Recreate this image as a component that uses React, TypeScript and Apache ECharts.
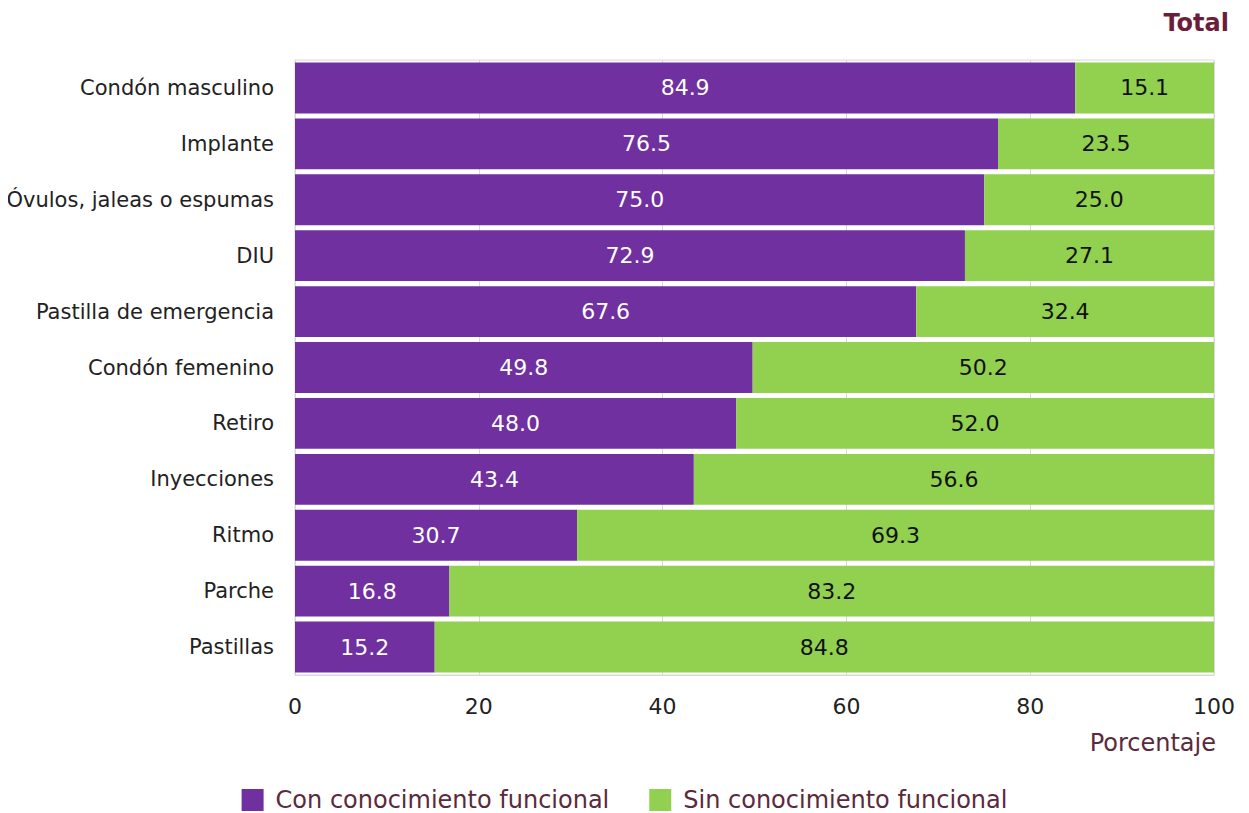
import React, { useEffect, useRef } from "react";
import * as echarts from "echarts";

const categories = [
  "Condón masculino",
  "Implante",
  "Óvulos, jaleas o espumas",
  "DIU",
  "Pastilla de emergencia",
  "Condón femenino",
  "Retiro",
  "Inyecciones",
  "Ritmo",
  "Parche",
  "Pastillas",
];
const conConocimiento = [84.9, 76.5, 75.0, 72.9, 67.6, 49.8, 48.0, 43.4, 30.7, 16.8, 15.2];
const sinConocimiento = [15.1, 23.5, 25.0, 27.1, 32.4, 50.2, 52.0, 56.6, 69.3, 83.2, 84.8];
const xTicks = [0, 20, 40, 60, 80, 100];

const FONT = "DejaVu Sans";

export default function App() {
  const ref = useRef<HTMLDivElement>(null);
  useEffect(() => {
    if (!ref.current) return;
    const chart = echarts.init(ref.current, null, { renderer: "svg" });
    chart.setOption({
      animation: false,
      backgroundColor: "#ffffff",
      textStyle: { fontFamily: FONT },
      title: {
        text: "Total",
        right: 12,
        top: 2,
        padding: 0,
        textStyle: { fontFamily: FONT, fontSize: 24, fontWeight: "bold", color: "#6b1d3a", lineHeight: 26 },
      },
      grid: {
        left: 287,
        right: 27,
        top: 52,
        bottom: 138,
        containLabel: false,
        outerBoundsMode: "none",
        show: true,
        borderColor: "#d9d9d9",
        borderWidth: 1,
      },
      legend: {
        top: 775,
        left: "center",
        itemWidth: 22,
        itemHeight: 22,
        itemGap: 40,
        icon: "rect",
        textStyle: { fontFamily: FONT, fontSize: 24, color: "#5a2a3c", padding: [0, 0, 0, 7] },
        data: ["Con conocimiento funcional", "Sin conocimiento funcional"],
      },
      xAxis: {
        type: "value",
        min: 0,
        max: 100,
        interval: 20,
        name: "Porcentaje",
        nameLocation: "end",
        nameGap: 2,
        nameTextStyle: {
          fontFamily: FONT,
          fontSize: 24,
          color: "#5a2a3c",
          align: "right",
          verticalAlign: "top",
          padding: [56, 0, 0, 0],
        },
        axisLine: { show: true, lineStyle: { color: "#d9d9d9" } },
        axisTick: { show: false },
        splitLine: { show: true, lineStyle: { color: "#d9d9d9" } },
        axisLabel: {
          fontFamily: FONT,
          fontSize: 22,
          color: "#222222",
          margin: 20,
          formatter: (v: number) => (xTicks.includes(v) ? String(v) : ""),
        },
      },
      yAxis: {
        type: "category",
        data: categories,
        inverse: true,
        axisLine: { show: true, lineStyle: { color: "#d9d9d9" } },
        axisTick: { show: false },
        axisLabel: { fontFamily: FONT, fontSize: 21, color: "#222222", margin: 21 },
      },
      series: [
        {
          name: "Con conocimiento funcional",
          type: "bar",
          stack: "total",
          data: conConocimiento,
          barCategoryGap: "9%",
          itemStyle: { color: "#7030a0" },
          label: {
            show: true,
            position: "inside",
            color: "#ffffff",
            fontFamily: FONT,
            fontSize: 22,
            formatter: (p: any) => p.value.toFixed(1),
          },
        },
        {
          name: "Sin conocimiento funcional",
          type: "bar",
          stack: "total",
          data: sinConocimiento,
          barCategoryGap: "9%",
          itemStyle: { color: "#92d050" },
          label: {
            show: true,
            position: "inside",
            color: "#111111",
            fontFamily: FONT,
            fontSize: 22,
            formatter: (p: any) => p.value.toFixed(1),
          },
        },
      ],
    });
    return () => chart.dispose();
  }, []);
  return <div ref={ref} style={{ width: 1233, height: 805 }} />;
}
